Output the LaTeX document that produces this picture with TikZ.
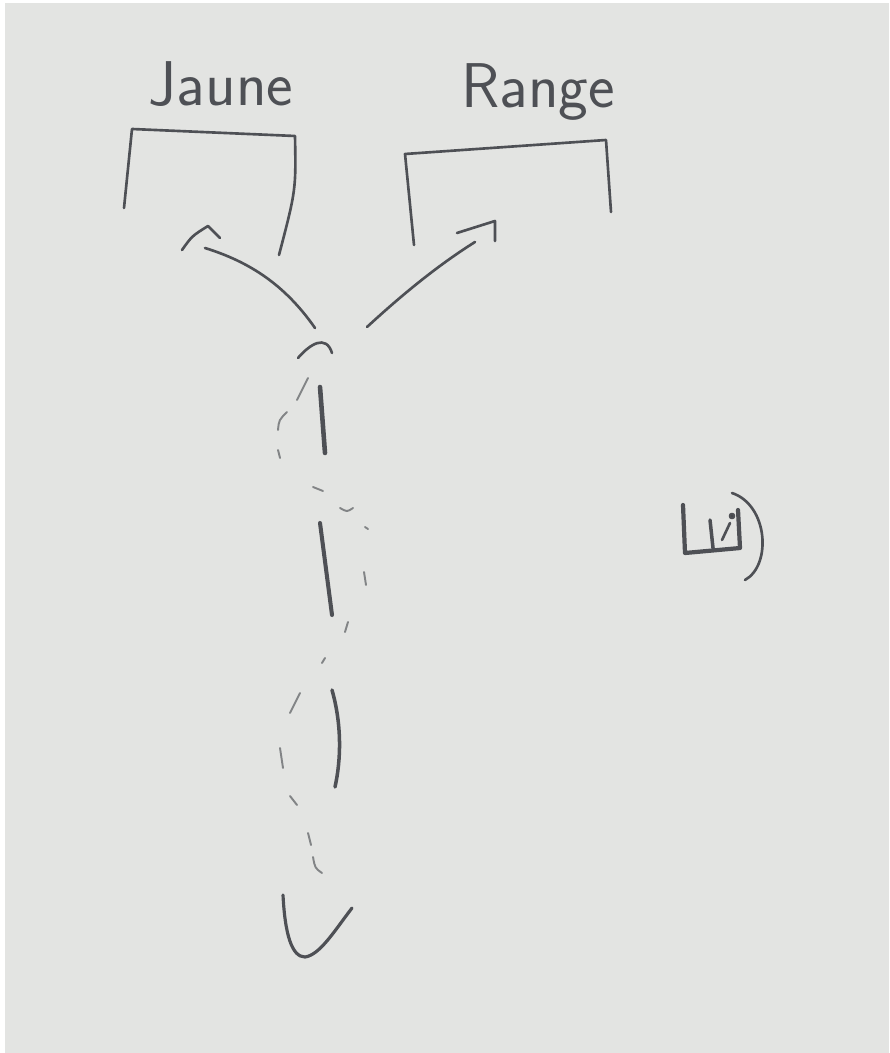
\documentclass[tikz,border=0pt]{standalone}
\definecolor{paper}{HTML}{E3E4E2}
\definecolor{pencil}{HTML}{4E5055}
\tikzset{
  pencil/.style={draw=pencil, line width=1.5pt, line cap=round, line join=round},
  faint/.style={draw=pencil!65!paper, line width=1.1pt, line cap=round},
  word/.style={text=pencil, font=\sffamily\fontsize{36}{42}\selectfont, inner sep=0pt},
}
\begin{document}
\begin{tikzpicture}[x=0.02cm,y=-0.02cm]
    \useasboundingbox (0,0) rectangle (889,1053);
    \fill[white] (0,0) rectangle (889,1053);
    \fill[paper] (5,3) rectangle (889,1053);
    % labels and brackets
    \node[word] (jaune) at (221,84) {Jaune};
    \node[word] (range) at (538,92) {Range};
    \draw[pencil] (124,208) -- (132,129) -- (295,136) .. controls (296,190) .. (279,255);
    \draw[pencil] (414,245) -- (405,154) -- (606,140) -- (611,212);
    % the two arrows
    \draw[pencil] (315,328) .. controls (285,285) and (250,262) .. (205,248);
    \draw[pencil] (182,250) .. controls (192,236) .. (208,226) -- (220,238);
    \draw[pencil] (367,327) .. controls (405,292) and (440,264) .. (475,242);
    \draw[pencil] (457,233) -- (495,221) -- (495,241);
    \draw[pencil] (298,358) .. controls (310,344) and (326,334) .. (332,353);
    % strokes down the middle
    \draw[pencil, line width=2.6pt] (320,387) -- (325,453);
    \draw[pencil, line width=2.3pt] (320,523) -- (332,615);
    \draw[pencil, line width=2pt] (332,690) .. controls (342,725) and (341,760) .. (335,787);
    \draw[faint] (297,400) -- (308,378);
    \draw[faint] (278,430) .. controls (279,420) .. (287,412);
    \draw[faint] (278,450) -- (280,458);
    \draw[faint] (313,487) -- (323,491);
    \draw[faint] (340,508) .. controls (347,512) .. (353,508);
    \draw[faint] (365,527) -- (368,529);
    \draw[faint] (364,572) -- (366,585);
    \draw[faint] (348,622) -- (345,632);
    \draw[faint] (325,658) -- (322,663);
    \draw[faint] (300,693) -- (290,713);
    \draw[faint] (280,748) -- (283,768);
    \draw[faint] (290,796) -- (297,805);
    \draw[faint] (308,833) -- (311,845);
    \draw[faint] (313,857) .. controls (315,868) .. (322,873);
    \draw[pencil, line width=1.8pt] (283,895) .. controls (285,935) and (292,957) .. (305,957)
      .. controls (320,955) and (335,930) .. (352,908);
    % mark on the right
    \draw[pencil, line width=2.4pt] (683,505) -- (685,553) -- (740,548) -- (738,510);
    \draw[pencil, line width=2pt] (710,520) -- (713,548);
    \draw[pencil] (722,540) -- (730,523);
    \fill[pencil] (732,516) circle (2);
    \draw[pencil] (732,493) .. controls (768,505) and (772,565) .. (745,580);
\end{tikzpicture}
\end{document}
